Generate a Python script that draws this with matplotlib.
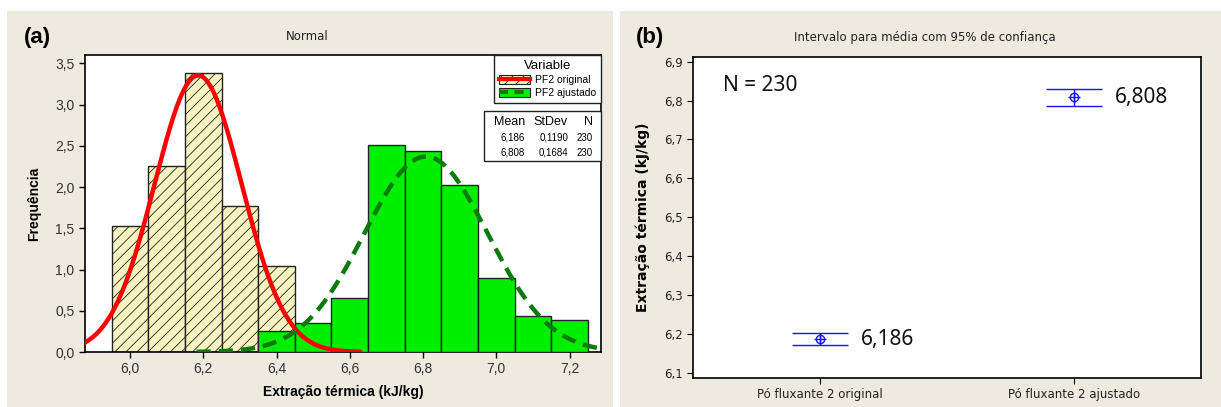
import numpy as np
import matplotlib
matplotlib.use("Agg")
import matplotlib.pyplot as plt
from matplotlib.patches import Rectangle, Patch
from matplotlib.lines import Line2D
from matplotlib.legend_handler import HandlerTuple
from matplotlib.ticker import FuncFormatter

plt.rcParams["hatch.linewidth"] = 0.6
plt.rcParams["font.family"] = ["Liberation Sans", "DejaVu Sans"]

# --- data ---
bin_orig = [6.0, 6.1, 6.2, 6.3, 6.4]
dens_orig = [1.53, 2.26, 3.38, 1.77, 1.04]
bin_adj = [6.4, 6.5, 6.6, 6.7, 6.8, 6.9, 7.0, 7.1, 7.2]
dens_adj = [0.25, 0.35, 0.66, 2.51, 2.44, 2.03, 0.90, 0.44, 0.39]
bin_width = 0.1

series = ["PF2 original", "PF2 ajustado"]
means = [6.186, 6.808]
stdevs = [0.1190, 0.1684]
counts = [230, 230]

groups = ["Pó fluxante 2 original", "Pó fluxante 2 ajustado"]
ci_low = [6.171, 6.786]
ci_high = [6.201, 6.830]

W, H = 1221, 407
fig = plt.figure(figsize=(W / 100, H / 100), dpi=100)
fig.patch.set_facecolor("white")


def fx(px):
    return px / W


def fy(py):
    return 1 - py / H


def comma(v, pos=None, nd=1):
    return ("{:.%df}" % nd).format(v).replace(".", ",")


beige = "#EEEAE0"
fig.patches.append(Rectangle((fx(7), 0), fx(613) - fx(7), fy(11), transform=fig.transFigure,
                             facecolor=beige, edgecolor="none", zorder=-10))
fig.patches.append(Rectangle((fx(620), 0), 1 - fx(620), fy(11), transform=fig.transFigure,
                             facecolor=beige, edgecolor="none", zorder=-10))

tick_col = "#333333"

# ---------------- (a) histogram ----------------
ax = fig.add_axes([fx(85), fy(352), fx(601) - fx(85), fy(55) - fy(352)])
yellow = "#F8F4C2"
green = "#00EE00"
ax.bar(bin_orig, dens_orig, width=bin_width, color=yellow, edgecolor="#222222",
       hatch="///", linewidth=1.0, zorder=2)
ax.bar(bin_adj, dens_adj, width=bin_width, color=green, edgecolor="#222222",
       linewidth=1.0, zorder=3)

# fitted normal curves from the mean / stdev in the table
for m, s, col, ls in [(means[0], stdevs[0], "#FF0000", "-"), (means[1], stdevs[1], "#0B7A0B", "--")]:
    xs = np.linspace(m - 3.72 * s, m + 3.72 * s, 300)
    ys = np.exp(-0.5 * ((xs - m) / s) ** 2) / (s * np.sqrt(2 * np.pi))
    if ls == "-":
        ax.plot(xs, ys, color=col, lw=3.2, zorder=5, solid_capstyle="round")
    else:
        ax.plot(xs, ys, color=col, lw=3.2, ls=(0, (3.2, 1.8)), zorder=5)

ax.set_xlim(5.877, 7.286)
ax.set_ylim(0, 3.6)
ax.set_xticks(np.arange(6.0, 7.21, 0.2))
ax.set_yticks(np.arange(0, 3.51, 0.5))
ax.xaxis.set_major_formatter(FuncFormatter(comma))
ax.yaxis.set_major_formatter(FuncFormatter(comma))
ax.tick_params(labelsize=10, colors="black", labelcolor=tick_col, length=4, width=1)
ax.spines[:].set_linewidth(1.2)
ax.set_xlabel("Extração térmica (kJ/kg)", fontsize=10, fontweight="bold", labelpad=6)
ax.set_ylabel("Frequência", fontsize=10, fontweight="bold", labelpad=10)

h1 = (Patch(facecolor=yellow, edgecolor="#222222", hatch="///", lw=0.8),
      Line2D([], [], color="#FF0000", lw=3))
h2 = (Patch(facecolor=green, edgecolor="#222222", lw=0.8),
      Line2D([], [], color="#0B7A0B", lw=3, ls=(0, (2.2, 1.5))))
leg = ax.legend([h1, h2], series, handler_map={tuple: HandlerTuple(ndivide=1, pad=0)},
                loc="upper right", bbox_to_anchor=(1.0, 1.0), borderaxespad=0.0,
                fontsize=7.5, title="Variable", title_fontsize=9.5, fancybox=False,
                framealpha=1, edgecolor="#222222", handlelength=3.0, handleheight=1.0,
                borderpad=0.45, labelspacing=0.3, handletextpad=0.5)
leg.get_frame().set_linewidth(1.0)
leg.set_zorder(10)

# stats box
fig.patches.append(Rectangle((fx(484), fy(161)), fx(601) - fx(484), fy(111) - fy(161),
                             transform=fig.transFigure, facecolor="white",
                             edgecolor="#222222", lw=1.0, zorder=20))
cols_x = [525, 568, 593]
fig.text(fx(cols_x[0]), fy(122), "Mean", ha="right", va="center", fontsize=9, zorder=21)
fig.text(fx(cols_x[1]), fy(122), "StDev", ha="right", va="center", fontsize=9, zorder=21)
fig.text(fx(cols_x[2]), fy(122), "N", ha="right", va="center", fontsize=9, zorder=21)
for i in range(len(series)):
    yy = fy(138 + i * 14.7)
    fig.text(fx(cols_x[0]), yy, comma(means[i], nd=3), ha="right", va="center", fontsize=7, zorder=21)
    fig.text(fx(cols_x[1]), yy, comma(stdevs[i], nd=4), ha="right", va="center", fontsize=7, zorder=21)
    fig.text(fx(cols_x[2]), yy, str(counts[i]), ha="right", va="center", fontsize=7, zorder=21)

fig.text(fx(307), fy(37), "Normal", ha="center", va="center", fontsize=8.5,
         family=["DejaVu Sans"], color="#222222")
fig.text(fx(24), fy(37), "(a)", ha="left", va="center", fontsize=16, fontweight="bold")

# ---------------- (b) intervals ----------------
bx = fig.add_axes([fx(693), fy(378), fx(1201) - fx(693), fy(57) - fy(378)])
blue = "#1515FF"
pos = [1, 2]
for p, lo, hi, m in zip(pos, ci_low, ci_high, means):
    bx.hlines([lo, hi], p - 0.11, p + 0.11, color=blue, lw=1.0)
    bx.vlines(p, lo, hi, color=blue, lw=1.0)
    bx.plot(p, m, marker="o", ms=6, mfc="none", mec=blue, mew=1.0)
    bx.plot(p, m, marker="+", ms=8, mec=blue, mew=1.0)
    bx.text(p + 0.16, m, comma(m, nd=3), ha="left", va="center", fontsize=15,
            family=["Noto Sans", "DejaVu Sans"], color="#111111")

bx.text(0.06, 0.91, "N = %d" % counts[0], transform=bx.transAxes, ha="left", va="center",
        fontsize=15, family=["Noto Sans", "DejaVu Sans"], color="#111111")

bx.set_xlim(0.5, 2.5)
bx.set_ylim(6.086, 6.912)
bx.set_xticks(pos)
bx.set_xticklabels(groups, family=["DejaVu Sans"], fontsize=8.5, color="#222222")
bx.set_yticks(np.arange(6.1, 6.91, 0.1))
bx.yaxis.set_major_formatter(FuncFormatter(comma))
for t in bx.get_yticklabels():
    t.set_family(["DejaVu Sans"])
bx.tick_params(axis="y", labelsize=8.5, labelcolor="#222222", length=4)
bx.tick_params(axis="x", length=4, pad=3)
bx.spines[:].set_linewidth(1.2)
bx.set_ylabel("Extração térmica (kJ/kg)", fontsize=10, fontweight="bold",
              family=["DejaVu Sans"], labelpad=10)

fig.text(fx(925), fy(37), "Intervalo para média com 95% de confiança", ha="center",
         va="center", fontsize=8.5, family=["DejaVu Sans"], color="#222222")
fig.text(fx(636), fy(37), "(b)", ha="left", va="center", fontsize=16, fontweight="bold")

fig.savefig("out.png", dpi=100, facecolor=fig.get_facecolor())
